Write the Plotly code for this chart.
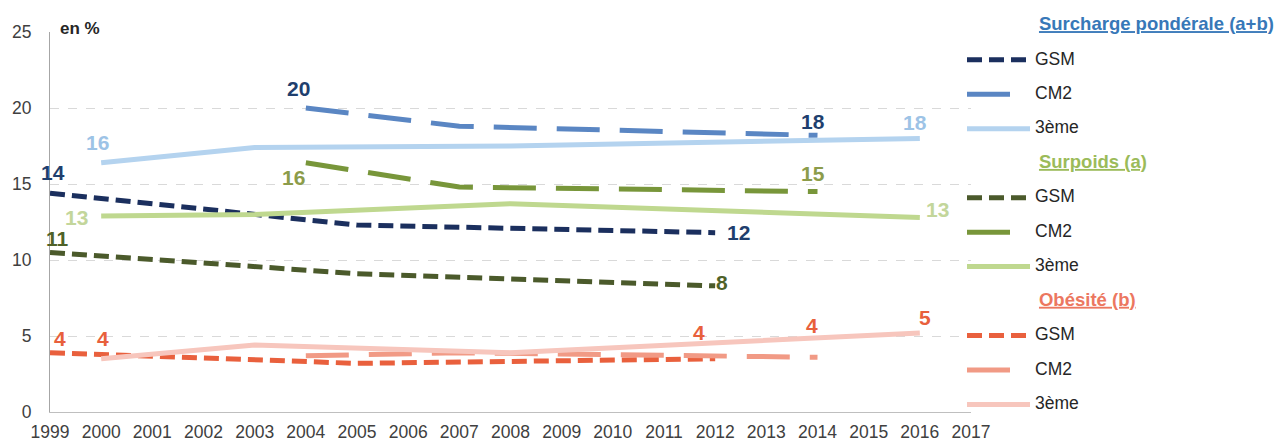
import math
import plotly.graph_objects as go

FONT = "Liberation Sans, Arial, sans-serif"

# Survey years for each school level
gsm_years = [1999, 2005, 2012]
cm2_years = [2004, 2007, 2014]
troisieme_years = [2000, 2003, 2008, 2016]

# Rates in % -- overweight incl. obesity (a+b)
surcharge_gsm = [14.4, 12.3, 11.8]
surcharge_cm2 = [20.0, 18.8, 18.2]
surcharge_3eme = [16.4, 17.4, 17.5, 18.0]

# Overweight excluding obesity (a)
surpoids_gsm = [10.5, 9.1, 8.3]
surpoids_cm2 = [16.4, 14.8, 14.5]
surpoids_3eme = [12.9, 13.0, 13.7, 12.8]

# Obesity (b)
obesite_gsm = [3.9, 3.2, 3.5]
obesite_cm2 = [3.7, 3.9, 3.6]
obesite_3eme = [3.5, 4.4, 3.9, 5.2]

year_ticks = list(range(1999, 2018))
y_ticks = [0, 5, 10, 15, 20, 25]

DASH_SHORT = "15px,7px"
DASH_LONG = "43px,20px"
NAVY_LABEL = "#1F3F6E"
RED_LABEL = "#E8603C"

groups = [
    {
        "key": "surcharge",
        "title": "Surcharge pondérale (a+b)",
        "title_color": "#3778B8",
        "series": [
            ("GSM", gsm_years, surcharge_gsm, "#1B2F5E", DASH_SHORT, NAVY_LABEL,
             [(0, 3, -21), (2, 23, 0)]),
            ("CM2", cm2_years, surcharge_cm2, "#5A86C3", DASH_LONG, NAVY_LABEL,
             [(0, -7, -20), (2, -5, -14)]),
            ("3ème", troisieme_years, surcharge_3eme, "#B4D3EF", "solid", "#9DC3E6",
             [(0, -4, -20), (3, -5, -16)]),
        ],
    },
    {
        "key": "surpoids",
        "title": "Surpoids (a)",
        "title_color": "#9BBB59",
        "series": [
            ("GSM", gsm_years, surpoids_gsm, "#4B5A2B", DASH_SHORT, "#4F6228",
             [(0, 7, -14), (2, 7, -3)]),
            ("CM2", cm2_years, surpoids_cm2, "#78963A", DASH_LONG, "#8C9C4A",
             [(0, -12, 15), (2, -5, -18)]),
            ("3ème", troisieme_years, surpoids_3eme, "#BFD88F", "solid", "#C3D69B",
             [(0, -25, 2), (3, 18, -8)]),
        ],
    },
    {
        "key": "obesite",
        "title": "Obésité (b)",
        "title_color": "#EC7760",
        "series": [
            ("GSM", gsm_years, obesite_gsm, "#E9603D", DASH_SHORT, RED_LABEL,
             [(0, 10, -14), (2, -16, -26)]),
            ("CM2", cm2_years, obesite_cm2, "#F19A85", DASH_LONG, RED_LABEL,
             [(2, -6, -32)]),
            ("3ème", troisieme_years, obesite_3eme, "#F7C6BD", "solid", RED_LABEL,
             [(0, 2, -20), (3, 5, -15)]),
        ],
    },
]


def rounded(v):
    return str(int(math.floor(v + 0.5)))


NBSP = "\u00a0"

fig = go.Figure()
annotations = []

for g in groups:
    title_html = (
        '<span style="font-size:18.5px;font-weight:bold">' + NBSP * 14
        + '<span style="text-decoration:underline">' + g["title"] + "</span></span><br>" + NBSP
    )
    for i, (name, xs, ys, color, dash, label_color, labels) in enumerate(g["series"]):
        trace = dict(
            x=xs,
            y=ys,
            mode="lines",
            name='<span style="font-size:17.5px">' + name + "</span><br>" + NBSP,
            legendgroup=g["key"],
            line=dict(color=color, width=5, dash=dash),
            hoverinfo="skip",
        )
        if i == 0:
            trace["legendgrouptitle"] = dict(
                text=title_html,
                font=dict(family=FONT, size=12.1, color=g["title_color"]),
            )
        fig.add_trace(go.Scatter(**trace))
        for idx, dx, dy in labels:
            annotations.append(dict(
                x=xs[idx], y=ys[idx], xref="x", yref="y",
                text="<b>" + rounded(ys[idx]) + "</b>",
                showarrow=False, xanchor="center", yanchor="middle",
                xshift=dx, yshift=-dy,
                font=dict(family=FONT, size=21, color=label_color),
            ))

annotations.append(dict(
    x=0, y=25, xref="paper", yref="y", text="<b>en %</b>",
    showarrow=False, xanchor="left", yanchor="middle", xshift=8, yshift=4,
    font=dict(family=FONT, size=17, color="#262626"),
))

fig.update_layout(
    width=1287,
    height=443,
    margin=dict(l=50, r=316, t=32, b=31, autoexpand=False),
    paper_bgcolor="white",
    plot_bgcolor="white",
    font=dict(family=FONT, color="#404040"),
    hovermode=False,
    annotations=annotations,
    legend=dict(
        xref="container", yref="container",
        x=962 / 1287, y=1 - 11 / 443,
        xanchor="left", yanchor="top",
        font=dict(family=FONT, size=12.1, color="#262626"),
        itemwidth=63, tracegroupgap=0, traceorder="grouped", valign="top",
        bgcolor="rgba(0,0,0,0)", borderwidth=0, maxheight=443,
        itemclick=False, itemdoubleclick=False,
    ),
    xaxis=dict(
        range=[1999, 2017], tickmode="array", tickvals=year_ticks,
        ticktext=[str(y) for y in year_ticks],
        showline=True, linecolor="#BFBFBF", linewidth=1,
        showgrid=False, zeroline=False,
        ticks="outside", ticklen=4, tickcolor="rgba(0,0,0,0)",
        tickfont=dict(family=FONT, size=17.5, color="#404040"),
        automargin=False, fixedrange=True,
    ),
    yaxis=dict(
        range=[0, 25], tickmode="array", tickvals=y_ticks,
        showline=True, linecolor="#A6A6A6", linewidth=1,
        showgrid=True, gridcolor="#D9D9D9", griddash="dash", gridwidth=1,
        zeroline=False,
        ticks="outside", ticklen=14, tickcolor="rgba(0,0,0,0)",
        tickfont=dict(family=FONT, size=17.5, color="#404040"),
        automargin=False, fixedrange=True,
    ),
)

fig.write_html("out.html", config={"displayModeBar": False})
